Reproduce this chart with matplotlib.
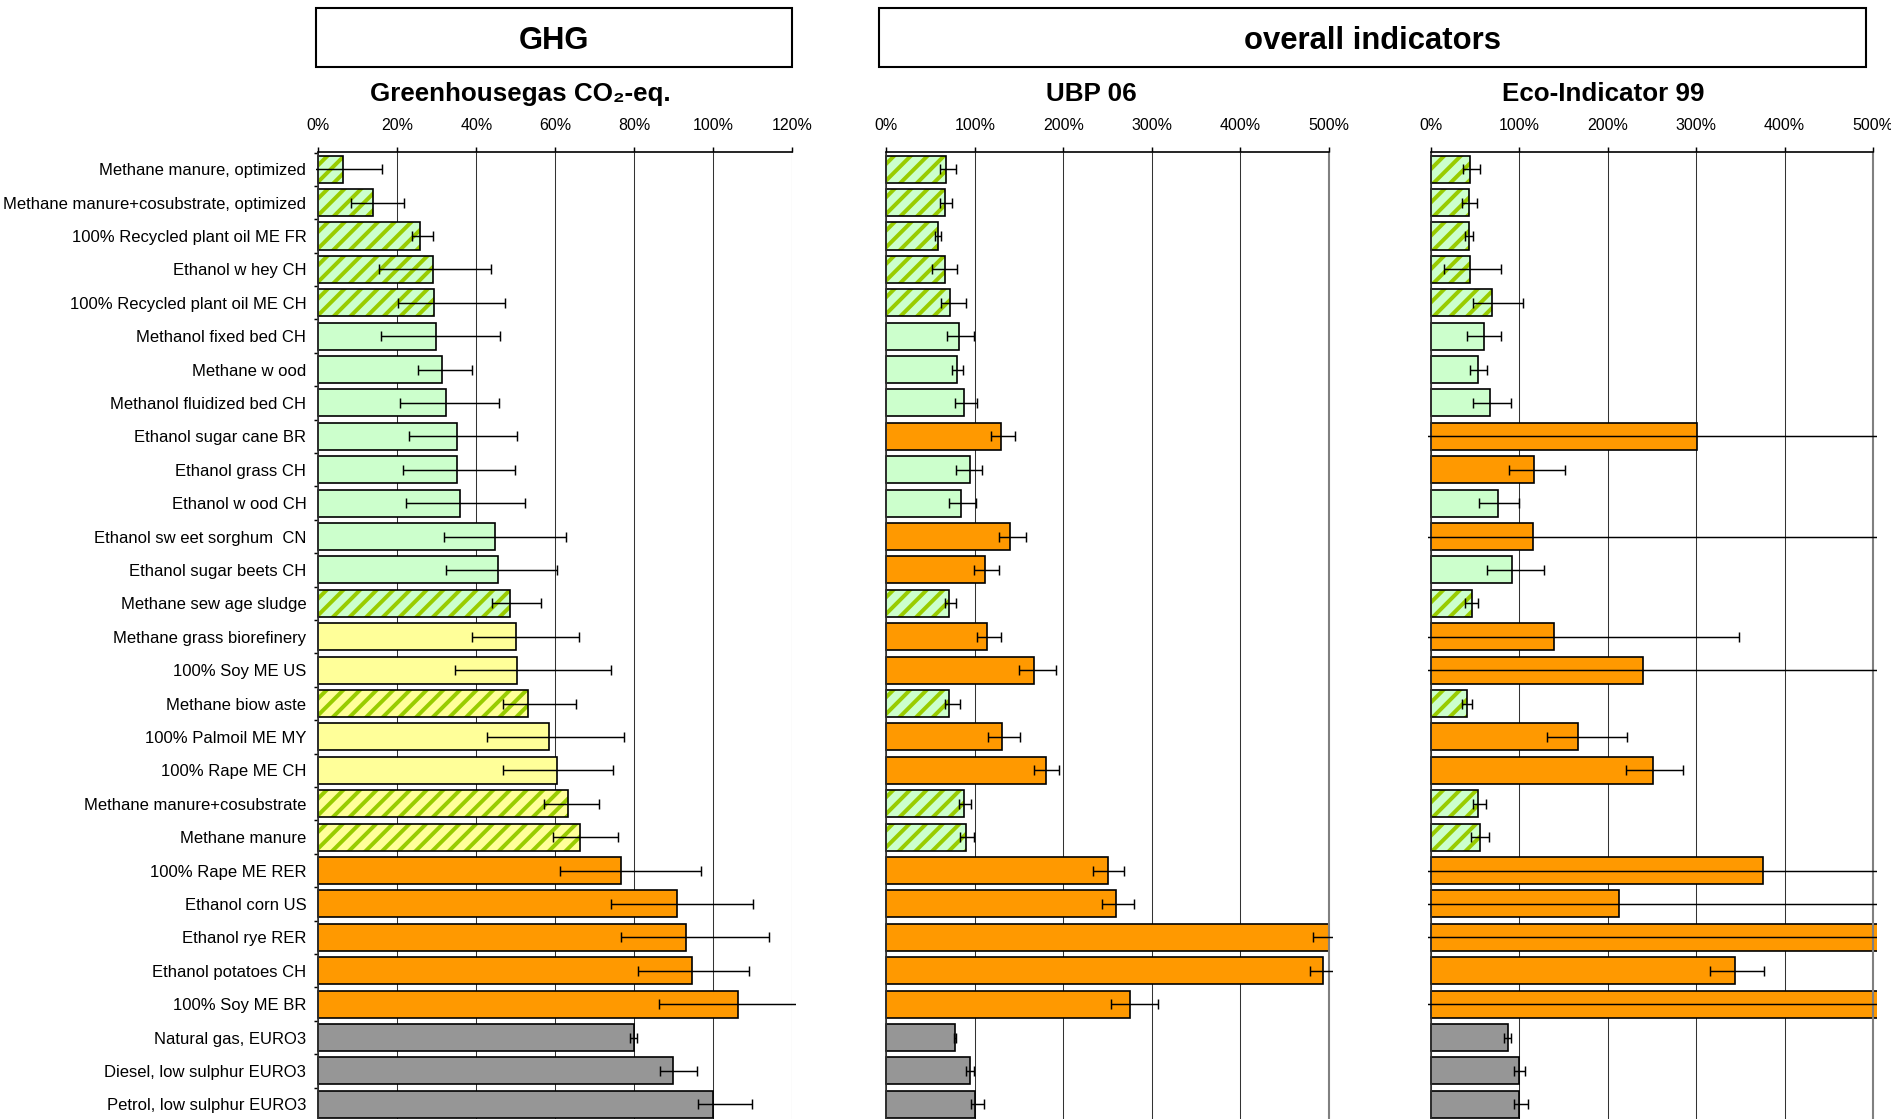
import numpy as np
import matplotlib
matplotlib.use("Agg")
import matplotlib.pyplot as plt
from matplotlib.patches import Rectangle

plt.rcParams['font.family'] = ['Liberation Sans', 'DejaVu Sans']
plt.rcParams['hatch.linewidth'] = 1.9

# Kategorien (von oben nach unten)
fuels = [
    "Methane manure, optimized",
    "Methane manure+cosubstrate, optimized",
    "100% Recycled plant oil ME FR",
    "Ethanol w hey CH",
    "100% Recycled plant oil ME CH",
    "Methanol fixed bed CH",
    "Methane w ood",
    "Methanol fluidized bed CH",
    "Ethanol sugar cane BR",
    "Ethanol grass CH",
    "Ethanol w ood CH",
    "Ethanol sw eet sorghum  CN",
    "Ethanol sugar beets CH",
    "Methane sew age sludge",
    "Methane grass biorefinery",
    "100% Soy ME US",
    "Methane biow aste",
    "100% Palmoil ME MY",
    "100% Rape ME CH",
    "Methane manure+cosubstrate",
    "Methane manure",
    "100% Rape ME RER",
    "Ethanol corn US",
    "Ethanol rye RER",
    "Ethanol potatoes CH",
    "100% Soy ME BR",
    "Natural gas, EURO3",
    "Diesel, low sulphur EURO3",
    "Petrol, low sulphur EURO3",
]

# Abfall-/Reststoffbasierte Treibstoffe (schraffiert)
waste_based = [True] * 5 + [False] * 8 + [True] + [False, False, True, False, False, True, True] + [False] * 8
# GHG-Einstufung
ghg_rating = ["low"] * 14 + ["mid"] * 7 + ["high"] * 5 + ["fossil"] * 3

# Treibhausgase, % von Benzin
ghg = [6.3, 13.7, 25.7, 29.0, 29.3, 29.8, 31.4, 32.2, 35.0, 35.0, 35.8, 44.8, 45.6, 48.4,
       50.0, 50.4, 53.2, 58.4, 60.4, 63.1, 66.3, 76.6, 90.7, 93.0, 94.6, 106.2, 79.8, 89.9, 100.0]
ghg_lo = [-2, 8.2, 23.7, 15.4, 20.2, 15.8, 25.3, 20.6, 22.9, 21.4, 22.1, 31.7, 32.2, 44.0,
          38.8, 34.5, 46.8, 42.7, 46.8, 57.2, 59.5, 61.2, 74.1, 76.6, 81.0, 86.2, 78.8, 86.6, 96.2]
ghg_hi = [16.2, 21.7, 28.9, 43.6, 47.2, 46.0, 38.8, 45.8, 50.4, 49.8, 52.4, 62.8, 60.4, 56.4,
          65.9, 74.1, 65.2, 77.4, 74.6, 71.0, 75.8, 97.0, 110.0, 114.0, 109.0, 125.0, 80.6, 95.8, 109.8]

# UBP 06
ubp = [67.4, 65.9, 58.8, 65.9, 72.3, 81.8, 79.5, 88.2, 129.6, 94.2, 84.8, 139.8, 111.5, 70.8,
       113.8, 166.2, 70.8, 131.1, 180.1, 88.2, 90.4, 249.8, 259.6, 500.0, 493.6, 275.4, 78.0, 94.2, 100.0]
ubp_lo = [60.3, 60.3, 55.0, 51.2, 62.2, 68.6, 74.2, 78.0, 118.7, 79.1, 70.8, 127.0, 99.1, 65.9,
          102.5, 150.3, 65.9, 114.9, 166.2, 81.8, 82.9, 233.2, 243.8, 482.3, 478.5, 254.0, 76.5, 90.4, 95.3]
ubp_hi = [78.4, 74.6, 62.2, 79.9, 90.4, 99.5, 87.0, 102.9, 145.1, 108.1, 101.0, 157.5, 127.4, 78.4,
          129.6, 191.4, 83.3, 150.7, 194.8, 95.3, 99.1, 268.3, 279.2, 525.0, 520.0, 306.3, 78.8, 99.1, 110.0]

# Eco-Indicator 99
eco = [44.5, 43.4, 43.0, 44.9, 69.1, 60.4, 53.2, 67.5, 300.8, 117.0, 76.6, 115.5, 92.5, 46.4,
       140.0, 239.6, 40.8, 167.2, 251.7, 53.2, 55.5, 375.5, 212.5, 560.0, 343.8, 540.0, 87.2, 99.5, 100.0]
eco_lo = [37.0, 35.5, 39.2, 15.5, 47.5, 40.8, 44.2, 47.5, -100, 88.3, 55.1, -100, 63.8, 39.2,
          -100, -100, 35.5, 131.3, 220.8, 47.5, 46.0, -100, -100, -100, 315.5, -100, 83.4, 94.0, 94.0]
eco_hi = [55.8, 52.1, 47.9, 80.0, 104.9, 80.0, 64.2, 90.9, 700, 152.5, 100.0, 700, 127.9, 53.2,
          349.1, 700, 46.8, 221.5, 285.3, 63.0, 65.7, 700, 700, 700, 377.4, 700, 90.9, 107.2, 110.6]

GREEN = '#CCFFCC'
YELLOW = '#FFFF99'
ORANGE = '#FF9900'
GRAY = '#969696'
HATCH = '#99CC00'

W, H, DPI = 1891, 1119, 150


def colors_ghg():
    farben = {"low": GREEN, "mid": YELLOW, "high": ORANGE, "fossil": GRAY}
    return [farben[r] for r in ghg_rating]


def colors_relativ(werte):
    # besser als Benzin -> gruen, schlechter -> orange, fossil -> grau
    out = []
    for i, v in enumerate(werte):
        if ghg_rating[i] == "fossil":
            out.append(GRAY)
        elif v < 100:
            out.append(GREEN)
        else:
            out.append(ORANGE)
    return out


def zeichne_panel(ax, werte, lo, hi, farben, xmax, schritt, beschriftung):
    n = len(werte)
    y = np.arange(n)
    werte = np.array(werte, dtype=float)
    lo = np.array(lo, dtype=float)
    hi = np.array(hi, dtype=float)
    schraffiert = np.array(waste_based)

    # etwas groesser als die Achse, wie im Excel-Original
    clip = Rectangle((-0.006, -0.01), 1.014, 1.02, transform=ax.transAxes,
                     fill=False, visible=False)
    ax.add_patch(clip)

    artists = []
    voll = ~schraffiert
    artists += list(ax.barh(y[voll], werte[voll], height=0.81,
                            color=np.array(farben)[voll], edgecolor='black',
                            linewidth=0.8, zorder=2))
    artists += list(ax.barh(y[schraffiert], werte[schraffiert], height=0.81,
                            color=np.array(farben)[schraffiert], edgecolor=HATCH,
                            hatch='///', linewidth=0, zorder=2))
    artists += list(ax.barh(y[schraffiert], werte[schraffiert], height=0.81,
                            fill=False, edgecolor='black', linewidth=0.8, zorder=2.5))

    eb = ax.errorbar(werte, y, xerr=[werte - lo, hi - werte], fmt='none',
                     ecolor='black', elinewidth=0.7, capsize=2.2, capthick=0.7,
                     zorder=3)
    for teil in eb.lines:
        if teil is None:
            continue
        if isinstance(teil, (list, tuple)):
            artists += list(teil)
        else:
            artists.append(teil)
    for a in artists:
        a.set_clip_path(clip)

    ax.set_xlim(0, xmax)
    ax.set_ylim(n - 0.5, -0.5)
    ticks = np.arange(0, xmax + schritt / 2, schritt)
    ax.set_xticks(ticks)
    ax.set_xticklabels([f"{int(t)}%" for t in ticks])
    ax.xaxis.tick_top()
    ax.tick_params(axis='x', direction='out', length=2.4, width=0.7, pad=7,
                   labelsize=7.7, colors='black')
    ax.grid(axis='x', color='#333333', linewidth=0.5, zorder=0)
    ax.set_axisbelow(True)

    ax.spines['bottom'].set_visible(False)
    ax.spines['top'].set_linewidth(0.8)
    ax.spines['left'].set_linewidth(0.8)
    ax.spines['left'].set_color('#333333')
    if xmax == 500:
        ax.spines['right'].set_color('#808080')
        ax.spines['right'].set_linewidth(1.0)
    else:
        ax.spines['right'].set_visible(False)

    ax.set_yticks(y)
    if beschriftung:
        ax.set_yticklabels(fuels, fontsize=8.0)
        ax.tick_params(axis='y', which='major', length=0, pad=5.8)
        ax.set_yticks(np.arange(-0.5, n, 1.0), minor=True)
        ax.tick_params(axis='y', which='minor', length=2.0, width=0.7, direction='out')
    else:
        ax.set_yticklabels([])
        ax.tick_params(axis='y', which='major', length=0)


fig = plt.figure(figsize=(W / DPI, H / DPI), dpi=DPI)

oben = 1 - 152.5 / H
unten = 1 - 1121 / H


def achse(x0, x1):
    return fig.add_axes([x0 / W, unten, (x1 - x0) / W, oben - unten])


ax1 = achse(318.4, 792.3)
ax2 = achse(886.4, 1329.0)
ax3 = achse(1430.5, 1873.0)

zeichne_panel(ax1, ghg, ghg_lo, ghg_hi, colors_ghg(), 120, 20, True)
zeichne_panel(ax2, ubp, ubp_lo, ubp_hi, colors_relativ(ubp), 500, 100, False)
zeichne_panel(ax3, eco, eco_lo, eco_hi, colors_relativ(eco), 500, 100, False)

# Kopfzeilen
for x0, x1, text in [(316, 792, "GHG"), (879, 1866, "overall indicators")]:
    fig.add_artist(Rectangle((x0 / W, 1 - 67 / H), (x1 - x0) / W, 59 / H,
                             transform=fig.transFigure, fill=False,
                             edgecolor='black', linewidth=1.0))
    fig.text((x0 + x1) / 2 / W, 1 - 41 / H, text, ha='center', va='center',
             fontsize=14.9, fontweight='bold')

# Untertitel
for xc, text in [(520, "Greenhousegas CO₂-eq."), (1091, "UBP 06"), (1603, "Eco-Indicator 99")]:
    fig.text(xc / W, 1 - 94 / H, text, ha='center', va='center',
             fontsize=12.5, fontweight='bold')

fig.savefig("out.png", dpi=DPI)
